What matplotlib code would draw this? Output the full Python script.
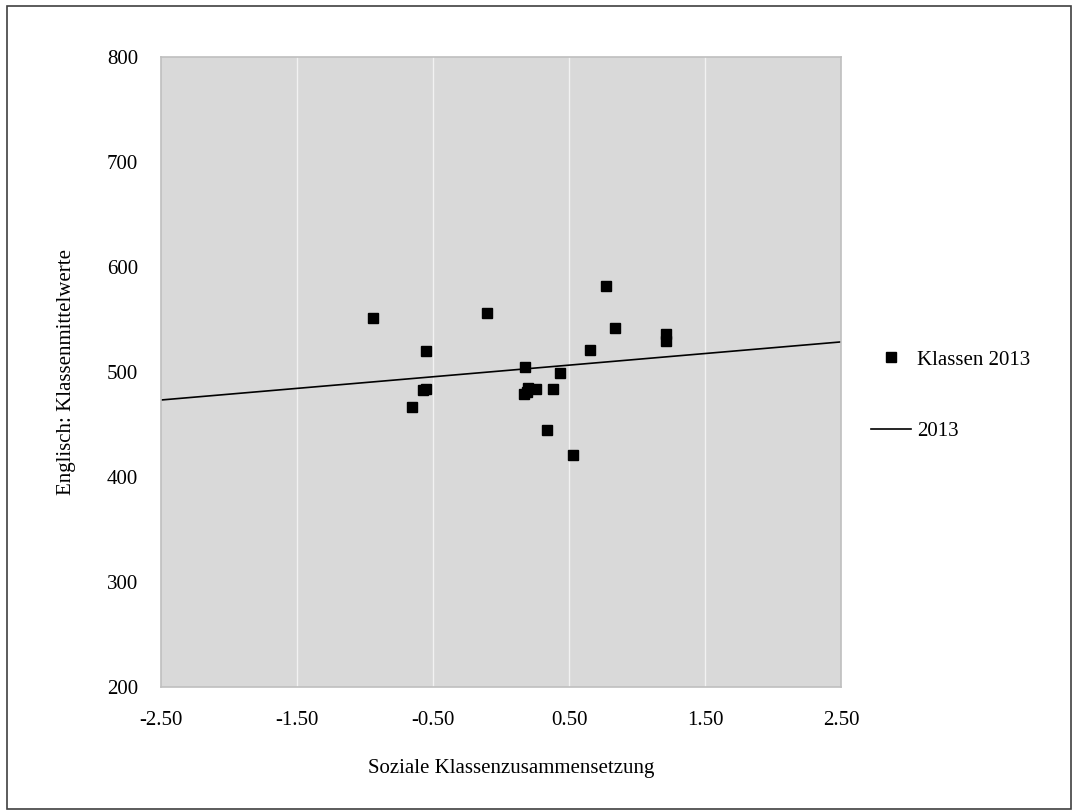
import numpy as np
import matplotlib
matplotlib.use("Agg")
import matplotlib.pyplot as plt
from matplotlib.lines import Line2D
from matplotlib.patches import Rectangle

plt.rcParams['font.family'] = ['Liberation Serif', 'DejaVu Serif']

# Klassen 2013: soziale Zusammensetzung vs. Englisch-Mittelwert
soz = [-0.94, -0.10, -0.55, 0.18, -0.55, -0.57, -0.65, 0.20, 0.17, 0.19,
       0.26, 0.38, 0.43, 0.34, 0.53, 0.65, 0.77, 0.84, 1.21, 1.21]
eng = [551, 556, 520, 505, 484, 483, 467, 485, 479, 481,
       484, 484, 499, 445, 421, 521, 582, 542, 536, 530]

# Trendlinie 2013 (Endpunkte)
trend_x = [-2.5, 2.5]
trend_y = [473.3, 528.7]

x_ticks = [-2.5, -1.5, -0.5, 0.5, 1.5, 2.5]
y_ticks = [200, 300, 400, 500, 600, 700, 800]

fig = plt.figure(figsize=(10.73, 8.11), dpi=100)
fig.patches.append(Rectangle((7 / 1073, 2 / 811), 1 - 9 / 1073, 1 - 8 / 811,
                             transform=fig.transFigure, fill=False,
                             edgecolor='#404040', linewidth=1.2))
ax = fig.add_axes([0.1496, 0.1529, 0.6346, 0.7768])
ax.set_facecolor('#d9d9d9')

for xv in x_ticks[1:-1]:
    ax.axvline(xv, color='#f2f2f2', linewidth=1.0, zorder=1)

ax.plot(trend_x, trend_y, color='black', linewidth=1.2, zorder=2)
ax.plot(soz, eng, linestyle='none', marker='s', markersize=6.8,
        color='black', zorder=3)

ax.set_xlim(-2.5, 2.5)
ax.set_ylim(200, 800)
ax.set_xticks(x_ticks)
ax.set_xticklabels(['%.2f' % v for v in x_ticks])
ax.set_yticks(y_ticks)
ax.tick_params(length=0, labelsize=15)
ax.tick_params(axis='y', pad=16)
ax.tick_params(axis='x', pad=17)
for s in ax.spines.values():
    s.set_color('#bfbfbf')
    s.set_linewidth(1.2)

ax.set_xlabel('Soziale Klassenzusammensetzung', fontsize=15, labelpad=21)
ax.xaxis.label.set_x(0.515)
ax.set_ylabel('Englisch: Klassenmittelwerte', fontsize=15, labelpad=22)

handles = [
    Line2D([], [], linestyle='none', marker='s', markersize=6.8, color='black'),
    Line2D([], [], color='black', linewidth=1.2),
]
leg = fig.legend(handles, ['Klassen 2013', '2013'], loc='center left',
                 bbox_to_anchor=(0.794, 0.512), frameon=False, fontsize=15,
                 labelspacing=2.5, handlelength=1.92, handletextpad=0.3)

fig.savefig('out.png', dpi=100)
